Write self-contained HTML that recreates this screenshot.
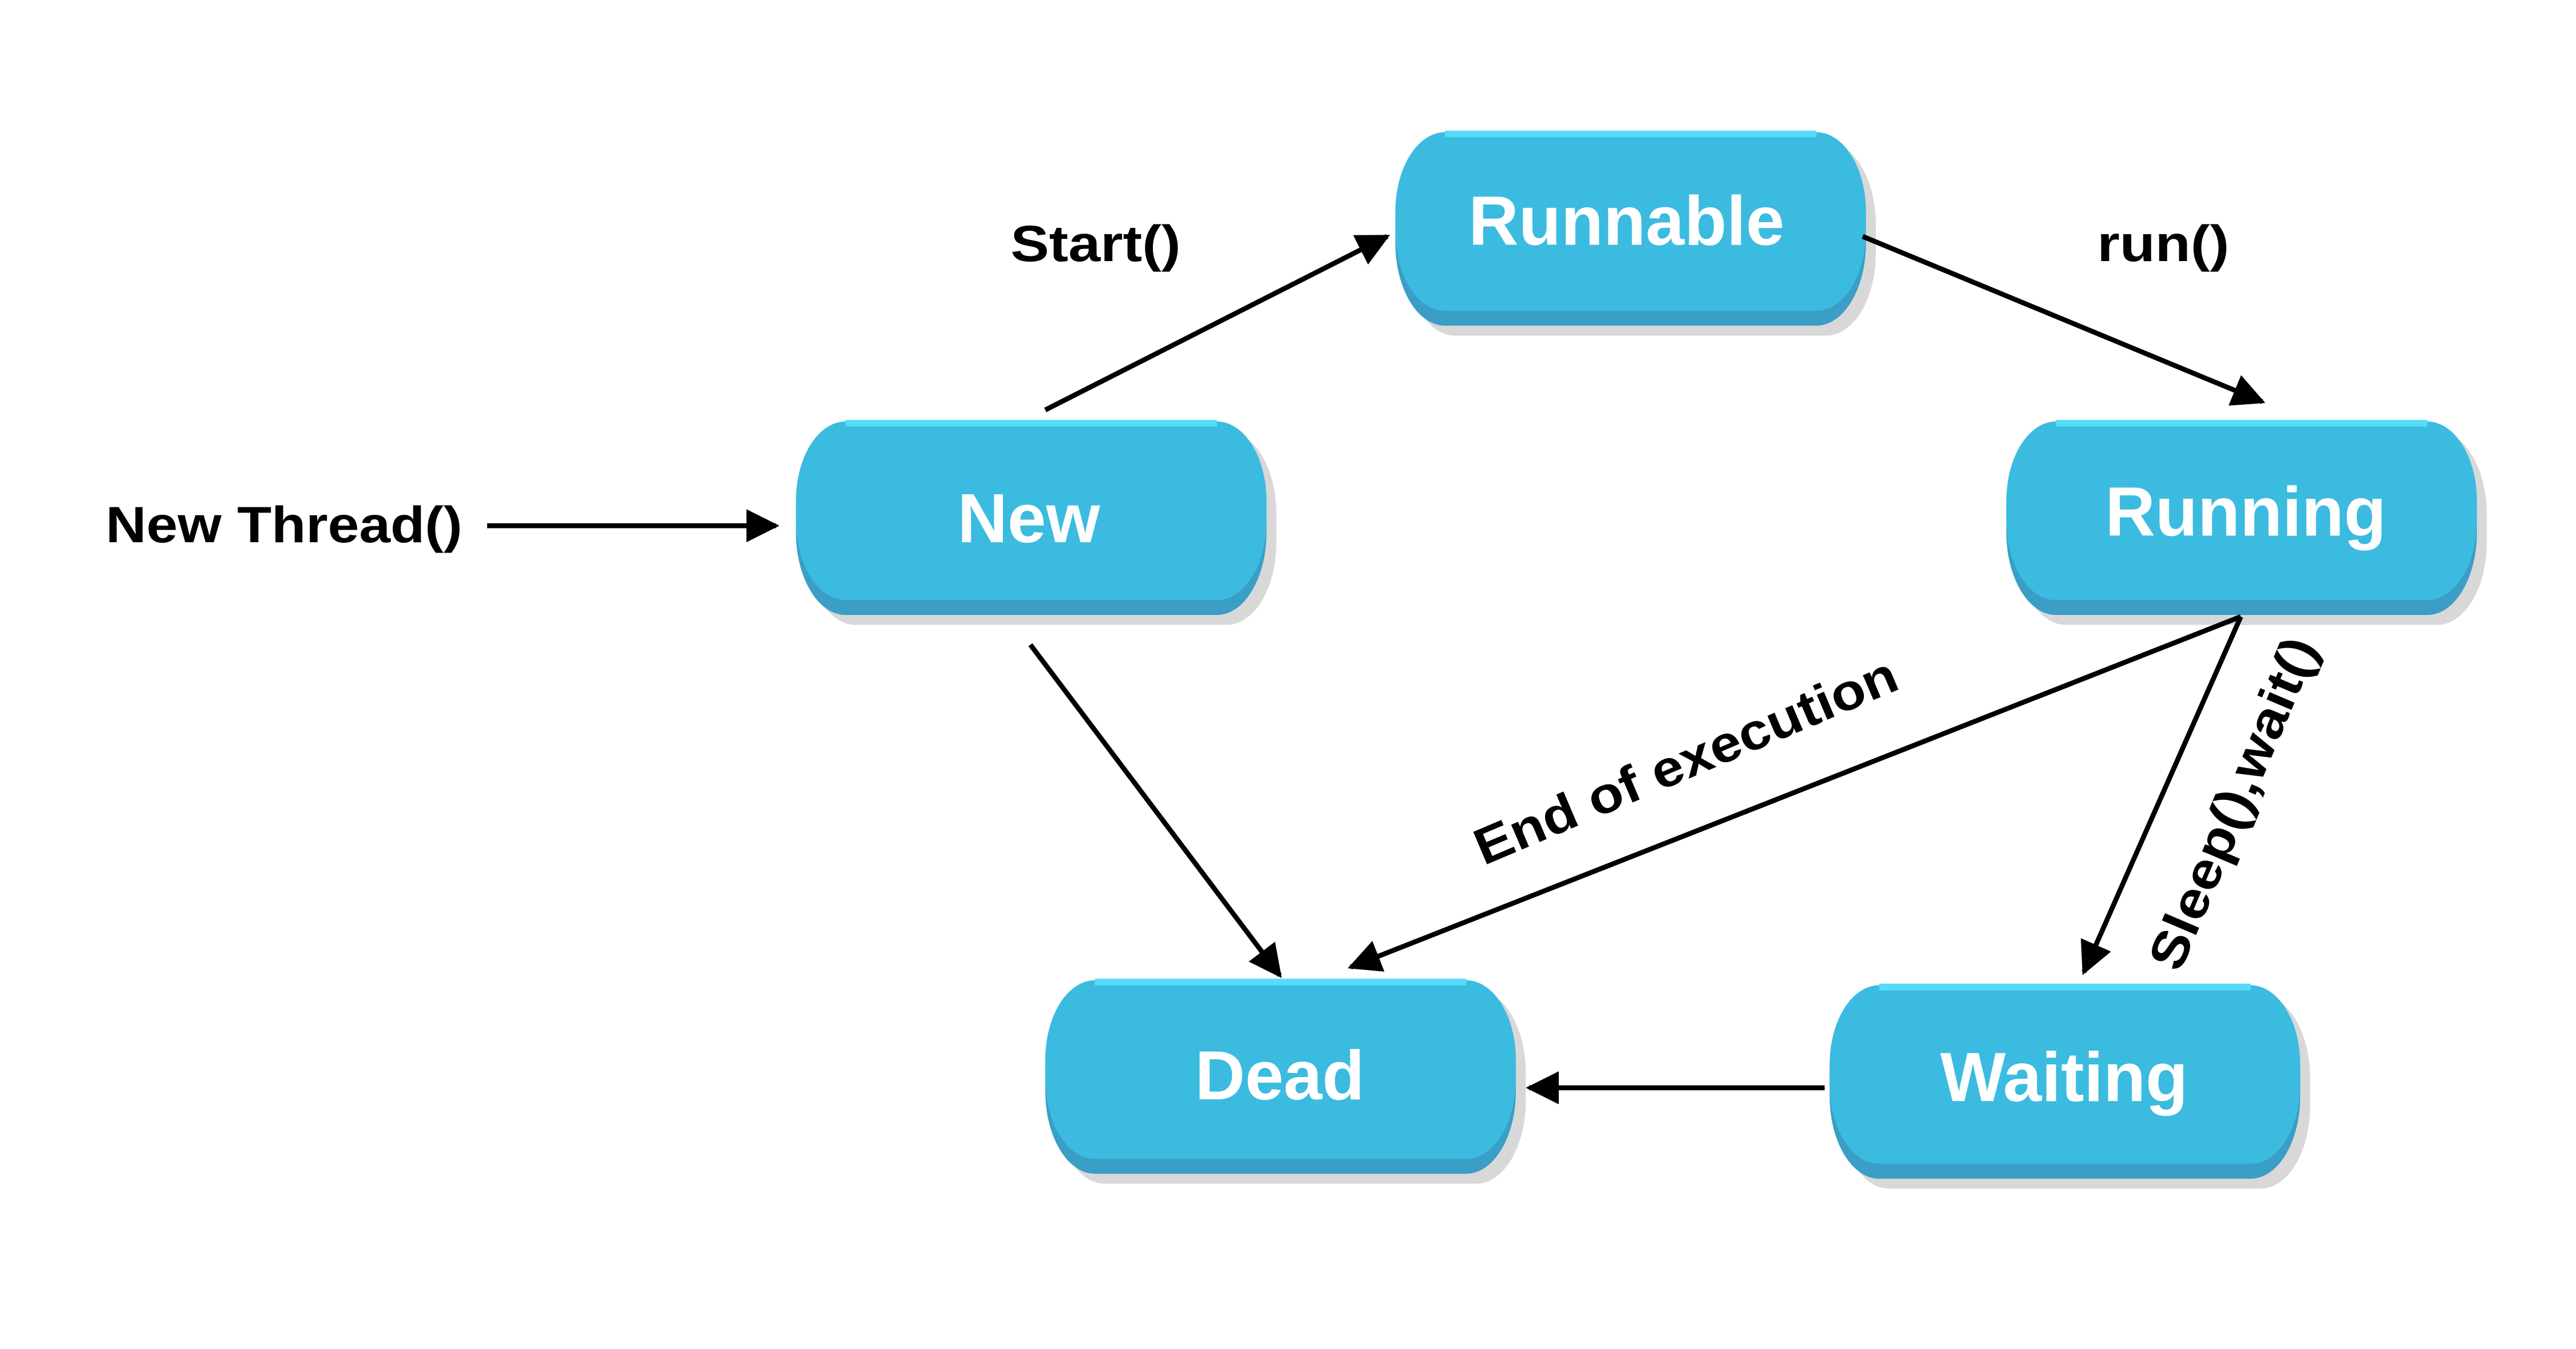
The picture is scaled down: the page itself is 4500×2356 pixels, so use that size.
<!DOCTYPE html>
<html><head><meta charset="utf-8"><style>
html,body{margin:0;padding:0;background:#fff;}
svg{display:block;}
text{font-family:"Liberation Sans",sans-serif;font-weight:bold;}
</style></head><body>
<svg width="4500" height="2356" viewBox="0 0 1560 816" preserveAspectRatio="none" xmlns="http://www.w3.org/2000/svg">
<defs>
<marker id="a" viewBox="0 0 10 10" refX="9" refY="5" markerWidth="7" markerHeight="7" orient="auto" markerUnits="userSpaceOnUse">
<path d="M0,0 L10,5 L0,10 z" fill="#000"/>
</marker>
<marker id="b" viewBox="0 0 10 10" refX="9" refY="5" markerWidth="20" markerHeight="20" orient="auto" markerUnits="userSpaceOnUse">
<path d="M0,0 L10,5 L0,10 z" fill="#000"/>
</marker>
<g id="box">
<rect x="6" y="6" width="285" height="117" rx="30" ry="50" fill="#d8d8d8"/>
<rect x="0" y="0" width="285" height="117" rx="30" ry="50" fill="#3a9ec6"/>
<rect x="0" y="0" width="285" height="108" rx="30" ry="48" fill="#3bbbdf"/>
<path d="M30,1 H255" stroke="#55dcf8" stroke-width="4"/>
</g>
</defs>
<use href="#box" x="845" y="80"/>
<use href="#box" x="482" y="255"/>
<use href="#box" x="1215" y="255"/>
<use href="#box" x="633" y="593"/>
<use href="#box" x="1108" y="596"/>
<g fill="#fff" font-size="42" text-anchor="middle">
<text x="985" y="148">Runnable</text>
<text x="623" y="328">New</text>
<text x="1360" y="324">Running</text>
<text x="775" y="665">Dead</text>
<text x="1250" y="666">Waiting</text>
</g>
<g stroke="#000" stroke-width="3" fill="none">
<line x1="295" y1="318" x2="470" y2="318" marker-end="url(#b)"/>
<line x1="633" y1="248" x2="840" y2="143" marker-end="url(#b)"/>
<line x1="1128" y1="143" x2="1370" y2="243" marker-end="url(#b)"/>
<line x1="624" y1="390" x2="775" y2="590" marker-end="url(#b)"/>
<line x1="1357" y1="373" x2="818" y2="585" marker-end="url(#b)"/>
<line x1="1357" y1="373" x2="1262" y2="588" marker-end="url(#b)"/>
<line x1="1105" y1="658" x2="926" y2="658" marker-end="url(#b)"/>
</g>
<g fill="#000" font-size="31">
<text x="64" y="328" textLength="216" lengthAdjust="spacingAndGlyphs">New Thread()</text>
<text x="612" y="158" textLength="103" lengthAdjust="spacingAndGlyphs">Start()</text>
<text x="1270" y="158" textLength="80" lengthAdjust="spacingAndGlyphs">run()</text>
<text transform="translate(1025,470) rotate(-23)" text-anchor="middle" textLength="275" lengthAdjust="spacingAndGlyphs">End of execution</text>
<text transform="translate(1362,490) rotate(-67)" text-anchor="middle" textLength="215" lengthAdjust="spacingAndGlyphs">Sleep(),wait()</text>
</g>
</svg>
</body></html>
